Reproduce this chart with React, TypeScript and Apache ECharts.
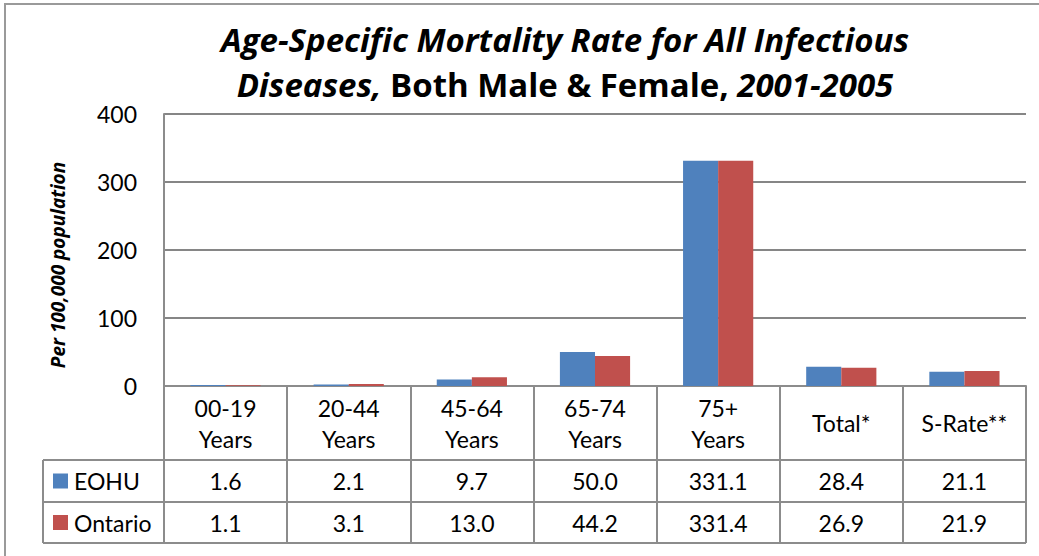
import React, { useEffect, useRef } from "react";
import * as echarts from "echarts";

const categories = ["00-19\nYears", "20-44\nYears", "45-64\nYears", "65-74\nYears", "75+\nYears", "Total*", "S-Rate**"];
const seriesNames = ["EOHU", "Ontario"];
const eohu = [1.6, 2.1, 9.7, 50.0, 331.1, 28.4, 21.1];
const ontario = [1.1, 3.1, 13.0, 44.2, 331.4, 26.9, 21.9];
const colors = ["#4F81BD", "#C0504D"];
const yTicks = { min: 0, max: 400, interval: 100 };

const FONT = "Lato, 'Open Sans', sans-serif";
const TFONT = "'Open Sans', Lato, sans-serif";

export default function App() {
  const ref = useRef<HTMLDivElement>(null);
  useEffect(() => {
    document.body.style.margin = "0";
    const chart = echarts.init(ref.current!, null, { renderer: "svg" });
    const L = 164, R = 1026, T = 114, B = 386;
    const H1 = 460, H2 = 502, H3 = 543, LX = 43;
    const cw = (R - L) / categories.length;
    const lineCol = "#8c8c8c";
    const lw = 2;
    const seriesData = [eohu, ontario];

    const graphics: any[] = [];
    graphics.push({ type: "rect", shape: { x: 5, y: 4, width: 1100, height: 600 }, style: { fill: "none", stroke: "#9a9a9a", lineWidth: 2 }, silent: true });
    [H1, H2, H3].forEach((y) => {
      graphics.push({ type: "line", shape: { x1: LX, y1: y, x2: R, y2: y }, style: { stroke: lineCol, lineWidth: lw } });
    });
    graphics.push({ type: "line", shape: { x1: LX, y1: H1, x2: LX, y2: H3 }, style: { stroke: lineCol, lineWidth: lw } });
    categories.forEach((c, i) => {
      graphics.push({
        type: "text",
        x: L + (i + 0.5) * cw,
        y: (B + H1) / 2,
        style: { text: c, font: `23px ${FONT}`, fill: "#000", align: "center", verticalAlign: "middle", textAlign: "center", textVerticalAlign: "middle", lineHeight: 31 },
      });
    });
    const rowsY = [(H1 + H2) / 2, (H2 + H3) / 2];
    seriesData.forEach((arr, r) => {
      graphics.push({ type: "rect", shape: { x: 53, y: rowsY[r] - 7.5, width: 15, height: 15 }, style: { fill: colors[r] } });
      graphics.push({
        type: "text", x: 74, y: rowsY[r],
        style: { text: seriesNames[r], font: `23px ${FONT}`, fill: "#000", align: "left", verticalAlign: "middle", textAlign: "left", textVerticalAlign: "middle" },
      });
      arr.forEach((v, i) => {
        graphics.push({
          type: "text", x: L + (i + 0.5) * cw, y: rowsY[r],
          style: { text: v.toFixed(1), font: `23px ${FONT}`, fill: "#000", align: "center", verticalAlign: "middle", textAlign: "center", textVerticalAlign: "middle" },
        });
      });
    });
    graphics.push({
      type: "text", x: 565, y: 62,
      style: {
        text: "{bi|Age-Specific Mortality Rate for All Infectious}\n{bi|Diseases,}{b| Both Male & Female,}{bi| 2001-2005}",
        align: "center", verticalAlign: "middle", textAlign: "center", textVerticalAlign: "middle",
        rich: {
          bi: { font: `italic bold 33px ${TFONT}`, fill: "#000", lineHeight: 45 },
          b: { font: `bold 33px ${TFONT}`, fill: "#000", lineHeight: 45 },
        },
      },
    });
    graphics.push({
      type: "text", x: 58, y: 265, rotation: Math.PI / 2,
      style: { text: "Per 100,000 population", font: `italic bold 19px ${TFONT}`, fill: "#000", align: "center", verticalAlign: "middle", textAlign: "center", textVerticalAlign: "middle" },
    });

    chart.setOption({
      animation: false,
      grid: { left: L, top: T, width: R - L, height: B - T },
      xAxis: {
        type: "category",
        data: categories,
        axisLabel: { show: false },
        axisLine: { lineStyle: { color: lineCol, width: lw } },
        axisTick: { show: true, length: H3 - B, lineStyle: { color: lineCol, width: lw } },
      },
      yAxis: {
        type: "value",
        min: yTicks.min,
        max: yTicks.max,
        interval: yTicks.interval,
        axisLine: { show: true, lineStyle: { color: lineCol, width: lw } },
        axisTick: { show: false },
        axisLabel: { color: "#000", fontSize: 23, fontFamily: FONT, margin: 27 },
        splitLine: { lineStyle: { color: "#868686", width: 2 } },
      },
      series: seriesNames.map((n, i) => ({
        name: n,
        type: "bar",
        data: seriesData[i],
        barGap: "0%",
        barCategoryGap: "43%",
        itemStyle: { color: colors[i] },
      })),
      graphic: graphics,
    });
    return () => chart.dispose();
  }, []);
  return <div ref={ref} style={{ width: 1039, height: 556 }} />;
}
